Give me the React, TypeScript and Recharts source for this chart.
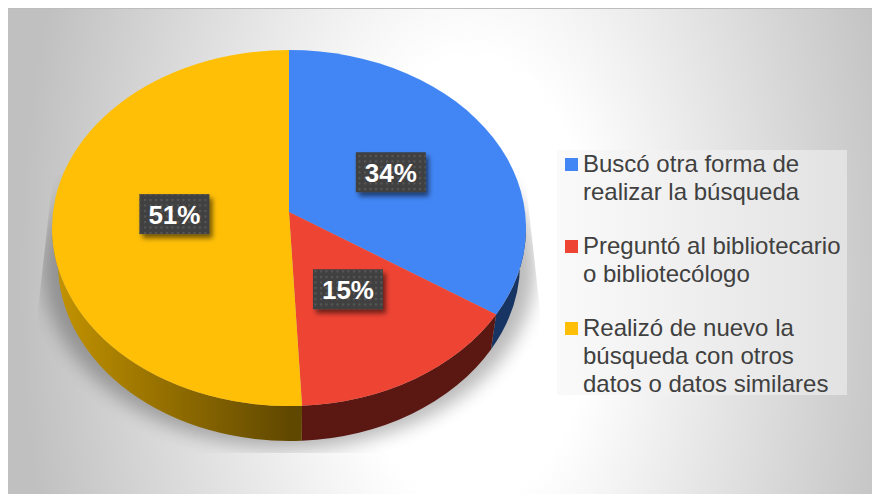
import { Legend, Pie, PieChart } from 'recharts';

const categories = [
  'Buscó otra forma de realizar la búsqueda',
  'Preguntó al bibliotecario o bibliotecólogo',
  'Realizó de nuevo la búsqueda con otros datos o datos similares',
];
const values = [34.3, 14.9, 50.8];
const topColors = ['#4286f5', '#ee4434', '#ffbf07'];
const sideColors = ['#173463', '#5b1813', 'url(#yellowSide)'];
const labelNudge = [3, 0, 0];

const topData = categories.map((name, i) => ({ name, value: values[i], fill: topColors[i] }));
const sideData = categories.map((name, i) => ({ name, value: values[i], fill: sideColors[i] }));

const SQUASH = 178 / 237; // disc seen at an angle
const TILT = -0.09; // vertex sits above the ellipse centre
const WALL = { dx: 0.975, dy: 35 };

// unit disc -> ellipse, with the perspective shift of the centre
function project(cx: number, cy: number, r: number, f: number, clockAngle: number) {
  const rad = (clockAngle * Math.PI) / 180;
  const u = f * Math.sin(rad);
  const v = -f * Math.cos(rad);
  const d = 1 + TILT * v;
  return {
    x: cx + (r * u * Math.sqrt(1 - TILT * TILT)) / d,
    y: cy + (r * SQUASH * (v + TILT)) / d,
  };
}

function TopSlice(props: any) {
  const { cx, cy, outerRadius: r, startAngle, endAngle, fill } = props;
  const a0 = 90 - startAngle;
  const a1 = 90 - endAngle;
  const o = project(cx, cy, r, 0, 0);
  const p0 = project(cx, cy, r, 1, a0);
  const p1 = project(cx, cy, r, 1, a1);
  const large = a1 - a0 > 172 ? 1 : 0;
  const d = `M${o.x} ${o.y}L${p0.x} ${p0.y}A${r} ${r * SQUASH} 0 ${large} 1 ${p1.x} ${p1.y}Z`;
  return <path d={d} fill={fill} />;
}

function SideSlice(props: any) {
  const { cx, cy, outerRadius: r, startAngle, endAngle, fill } = props;
  const ry = r * SQUASH;
  const phiOf = (a: number) => {
    const p = project(cx, cy, r, 1, a);
    let phi = Math.atan2((p.y - cy) / ry, (p.x - cx) / r);
    if (phi < -Math.PI / 2) phi += Math.PI * 2;
    return phi;
  };
  const phi0 = Math.max(phiOf(90 - startAngle), 0);
  const phi1 = Math.min(phiOf(Math.min(90 - endAngle, 359)), Math.PI);
  if (phi1 <= phi0) return null;
  const rw = r * WALL.dx;
  const top = (phi: number) => `${cx + r * Math.cos(phi)} ${cy + ry * Math.sin(phi)}`;
  const low = (phi: number) => `${cx + rw * Math.cos(phi)} ${cy + WALL.dy + ry * Math.sin(phi)}`;
  const d = `M${top(phi0)}A${r} ${ry} 0 0 1 ${top(phi1)}L${low(phi1)}A${rw} ${ry} 0 0 0 ${low(phi0)}Z`;
  return <path d={d} fill={fill} />;
}

function percentLabel(props: any) {
  const { cx, cy, outerRadius: r, midAngle, percent, index } = props;
  const p = project(cx, cy, r, 0.485, 90 - midAngle);
  const x = p.x + labelNudge[index];
  return (
    <g key={index}>
      <rect x={x - 35} y={p.y - 20} width={70} height={40} fill="#404040" filter="url(#boxShadow)" />
      <rect x={x - 35} y={p.y - 20} width={70} height={40} fill="url(#dots)" />
      <text
        x={x}
        y={p.y + 9.5}
        textAnchor="middle"
        fontFamily="'Liberation Sans', Arial, sans-serif"
        fontWeight={700}
        fontSize={26}
        fill="#ffffff"
      >
        {Math.round(percent * 100)}%
      </text>
    </g>
  );
}

function LegendList({ payload }: any) {
  // the wall pie also reports entries, only the top faces go in the list
  const items = (payload ?? []).filter((entry: any) => topColors.includes(entry.color));
  return (
    <div
      style={{
        fontFamily: "'Liberation Sans', Arial, sans-serif",
        fontSize: 24,
        lineHeight: '28px',
        color: '#404040',
        background: 'linear-gradient(90deg, #fafafa, #e2e2e2)',
        height: 245,
        boxSizing: 'border-box',
        padding: '0 4px 0 8px',
      }}
    >
      {items.map((entry: any) => (
        <div key={entry.value} style={{ display: 'flex', marginBottom: 26 }}>
          <span
            style={{
              width: 13,
              height: 13,
              marginTop: 8,
              marginRight: 5,
              flexShrink: 0,
              background: entry.color,
            }}
          />
          <span style={{ width: 262 }}>{entry.value}</span>
        </div>
      ))}
    </div>
  );
}

export default function App() {
  return (
    <div style={{ position: 'absolute', left: 0, top: 0, width: 872, height: 494, background: '#fff', overflow: 'hidden' }}>
      <div
        style={{
          position: 'absolute',
          left: 8,
          top: 8,
          width: 864,
          height: 486,
          borderTop: '1px solid #bdbdbd',
          boxSizing: 'border-box',
          background: 'radial-gradient(450px 800px at 462px 272px, #ffffff 0%, #ffffff 28%, #c0c0c0 100%)',
        }}
      />
      <div style={{ position: 'absolute', left: 0, top: 0 }}>
        <PieChart width={872} height={494} margin={{ top: 0, right: 0, bottom: 0, left: 0 }}>
          <defs>
            <linearGradient id="yellowSide" gradientUnits="userSpaceOnUse" x1="52" y1="0" x2="290" y2="0">
              <stop offset="0%" stopColor="#c49400" />
              <stop offset="40%" stopColor="#9c7500" />
              <stop offset="100%" stopColor="#604800" />
            </linearGradient>
            <pattern id="dots" width="5.5" height="5.5" patternUnits="userSpaceOnUse">
              <rect x="1" y="1" width="2" height="2" fill="#5a5a5a" />
            </pattern>
            <filter id="boxShadow" x="-20%" y="-30%" width="150%" height="170%">
              <feDropShadow dx="3" dy="4" stdDeviation="2.5" floodColor="#000" floodOpacity="0.55" />
            </filter>
            <filter id="discShadow" x="-20%" y="-20%" width="140%" height="140%">
              <feGaussianBlur stdDeviation="9" />
            </filter>
            <clipPath id="shadowClip">
              <path d="M53 175L38 310V453H540V310L525 175Z" />
            </clipPath>
          </defs>
          <g clipPath="url(#shadowClip)">
            <ellipse cx={289} cy={268} rx={246} ry={180} fill="#000000" opacity={0.27} filter="url(#discShadow)" />
          </g>
          <Pie
            data={sideData}
            dataKey="value"
            nameKey="name"
            cx={289}
            cy={228}
            outerRadius={237}
            startAngle={90}
            endAngle={-270}
            stroke="none"
            legendType="none"
            shape={SideSlice}
            isAnimationActive={false}
          />
          <Pie
            data={topData}
            dataKey="value"
            nameKey="name"
            cx={289}
            cy={228}
            outerRadius={237}
            startAngle={90}
            endAngle={-270}
            stroke="none"
            shape={TopSlice}
            label={percentLabel}
            labelLine={false}
            isAnimationActive={false}
          />
          <Legend
            content={<LegendList />}
            wrapperStyle={{ position: 'absolute', left: 557, top: 150, width: 290, height: 245 }}
          />
        </PieChart>
      </div>
    </div>
  );
}
